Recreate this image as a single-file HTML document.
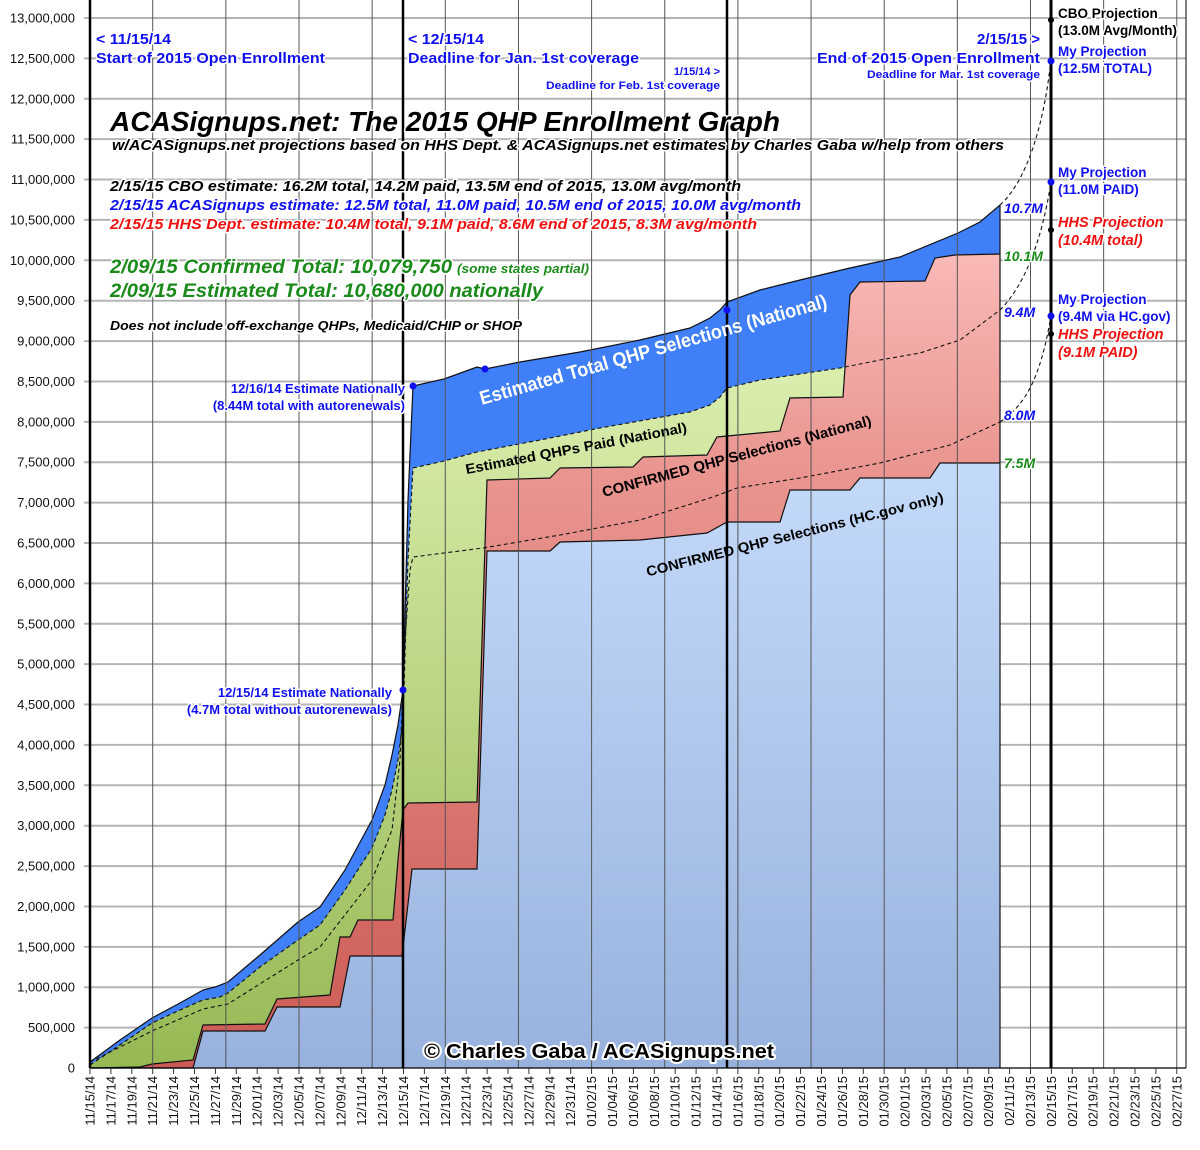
<!DOCTYPE html>
<html><head><meta charset="utf-8"><style>
html,body{margin:0;padding:0;background:#fff;}
svg{display:block;font-family:"Liberation Sans",sans-serif;}
.h{paint-order:stroke;stroke:#fff;stroke-width:3px;stroke-linejoin:round;}
.yl{font-size:13px;fill:#111;text-anchor:end;}
.xl{font-size:13px;fill:#111;text-anchor:end;}
</style></head><body>
<svg width="1200" height="1150" viewBox="0 0 1200 1150" xmlns="http://www.w3.org/2000/svg">
<defs>
<linearGradient id="gR" x1="0" y1="250" x2="0" y2="1068" gradientUnits="userSpaceOnUse">
<stop offset="0" stop-color="#f9bab8"/><stop offset="0.27" stop-color="#ea9590"/><stop offset="1" stop-color="#cc5a54"/></linearGradient>
<linearGradient id="gG" x1="0" y1="380" x2="0" y2="1068" gradientUnits="userSpaceOnUse">
<stop offset="0" stop-color="#d9edac"/><stop offset="1" stop-color="#96b954"/></linearGradient>
<linearGradient id="gB" x1="0" y1="460" x2="0" y2="1068" gradientUnits="userSpaceOnUse">
<stop offset="0" stop-color="#c4dafa"/><stop offset="1" stop-color="#98b2de"/></linearGradient>
</defs>
<rect width="1200" height="1150" fill="#fff"/>
<g stroke="#b4b4b4" stroke-width="2" id="hg"></g>
<g id="yl"></g>
<polygon fill="#3f7ff7" points="90,1062 120,1040 152,1018 180,1003 203,990 215,987 228,982 260,955 298,922 320,907 345,870 372,820 385,785 392,755 398,725 403,690 408,500 413,386 444,379 477,367 485,369 520,362 580,352 640,340 690,328 710,318 720,310 727,302 760,290 800,280 850,268 900,257 958,233 980,222 1000,205 1000,1068 90,1068"/>
<polygon fill="url(#gG)" points="90,1065 120,1045 152,1023 180,1010 203,1000 220,997 228,993 260,967 298,940 320,925 345,890 372,848 385,815 392,790 398,760 403,720 408,560 413,468 444,461 477,452 540,440 600,428 690,412 710,405 720,397 727,388 760,380 800,374 840,368 880,360 920,353 960,340 1000,310 1000,1068 90,1068"/>
<polygon fill="url(#gR)" points="90,1068 140,1067 152,1064 193,1060 203,1025 265,1024 277,999 330,995 340,937 350,937 358,920 393,920 398,860 403,810 408,803 477,802 487,480 550,478 560,468 633,467 643,457 707,455 717,437 780,431 790,398 843,397 850,295 860,282 925,281 935,258 955,255 1000,254 1000,1068"/>
<polygon fill="url(#gB)" points="90,1068 193,1068 203,1031 265,1031 277,1007 340,1007 350,956 402,956 412,869 477,869 487,551 550,551 560,542 640,540 707,533 727,522 780,522 790,490 850,490 860,478 930,478 940,463 1000,463 1000,1068"/>
<g fill="none" stroke="#111" stroke-width="1.2">
<polyline points="90,1062 120,1040 152,1018 180,1003 203,990 215,987 228,982 260,955 298,922 320,907 345,870 372,820 385,785 392,755 398,725 403,690 408,500 413,386 444,379 477,367 485,369 520,362 580,352 640,340 690,328 710,318 720,310 727,302 760,290 800,280 850,268 900,257 958,233 980,222 1000,205 1000,1068"/>
<polyline points="90,1068 140,1067 152,1064 193,1060 203,1025 265,1024 277,999 330,995 340,937 350,937 358,920 393,920 398,860 403,810 408,803 477,802 487,480 550,478 560,468 633,467 643,457 707,455 717,437 780,431 790,398 843,397 850,295 860,282 925,281 935,258 955,255 1000,254"/>
<polyline points="90,1068 193,1068 203,1031 265,1031 277,1007 340,1007 350,956 402,956 412,869 477,869 487,551 550,551 560,542 640,540 707,533 727,522 780,522 790,490 850,490 860,478 930,478 940,463 1000,463"/>
</g>
<g fill="none" stroke="#111" stroke-width="1.1" stroke-dasharray="4,3">
<polyline points="90,1065 120,1045 152,1023 180,1010 203,1000 220,997 228,993 260,967 298,940 320,925 345,890 372,848 385,815 392,790 398,760 403,720 408,560 413,468 444,461 477,452 540,440 600,428 690,412 710,405 720,397 727,388 760,380 800,374 840,368 880,360 920,353 960,340 1000,310"/>
<polyline points="90,1062 152,1031 203,1009 228,1004 298,960 320,947 372,880 392,830 400,760 405,640 410,570 413,557 483,548 560,535 640,520 713,497 737,488 800,478 880,463 950,445 1000,422"/>
<path d="M1000,422 C1025,405 1040,380 1051,316"/>
<path d="M1000,310 C1025,285 1042,240 1051,182"/>
<path d="M1000,205 C1028,180 1045,120 1051,58"/>
</g>
<g stroke="#555" stroke-width="1" id="vg"></g>
<g stroke="#000">
<line x1="90" y1="0" x2="90" y2="1068" stroke-width="2.5"/>
<line x1="403" y1="0" x2="403" y2="1068" stroke-width="2.5"/>
<line x1="727" y1="0" x2="727" y2="1068" stroke-width="2.5"/>
<line x1="1051" y1="0" x2="1051" y2="1068" stroke-width="3"/>
<line x1="1186" y1="0" x2="1186" y2="1068" stroke-width="1"/>
<line x1="90" y1="1068" x2="1186" y2="1068" stroke-width="1.2"/>
</g>
<g stroke="#333" id="xt"></g>
<g id="xl"></g>
<g font-weight="bold" fill="#1010ee">
<text x="96" y="44" font-size="15" class="h" textLength="75" lengthAdjust="spacingAndGlyphs">&lt; 11/15/14</text>
<text x="96" y="63" font-size="15" class="h" textLength="229" lengthAdjust="spacingAndGlyphs">Start of 2015 Open Enrollment</text>
<text x="408" y="44" font-size="15" class="h" textLength="76" lengthAdjust="spacingAndGlyphs">&lt; 12/15/14</text>
<text x="408" y="63" font-size="15" class="h" textLength="231" lengthAdjust="spacingAndGlyphs">Deadline for Jan. 1st coverage</text>
<text x="720" y="75" font-size="11" text-anchor="end" class="h">1/15/14 &gt;</text>
<text x="720" y="89" font-size="11" text-anchor="end" class="h" textLength="174" lengthAdjust="spacingAndGlyphs">Deadline for Feb. 1st coverage</text>
<text x="1040" y="44" font-size="15" text-anchor="end" class="h">2/15/15 &gt;</text>
<text x="817" y="63" font-size="15" class="h" textLength="223" lengthAdjust="spacingAndGlyphs">End of 2015 Open Enrollment</text>
<text x="867" y="78" font-size="11" class="h" textLength="173" lengthAdjust="spacingAndGlyphs">Deadline for Mar. 1st coverage</text>
</g>
<g font-weight="bold" font-style="italic">
<text x="110" y="131" font-size="28" fill="#000" class="h" textLength="670" lengthAdjust="spacingAndGlyphs">ACASignups.net: The 2015 QHP Enrollment Graph</text>
<text x="112" y="150" font-size="15" fill="#000" class="h" textLength="892" lengthAdjust="spacingAndGlyphs">w/ACASignups.net projections based on HHS Dept. &amp; ACASignups.net estimates by Charles Gaba w/help from others</text>
<text x="110" y="191" font-size="15" fill="#000" class="h" textLength="631" lengthAdjust="spacingAndGlyphs">2/15/15 CBO estimate: 16.2M total, 14.2M paid, 13.5M end of 2015, 13.0M avg/month</text>
<text x="110" y="210" font-size="15" fill="#1010ee" class="h" textLength="691" lengthAdjust="spacingAndGlyphs">2/15/15 ACASignups estimate: 12.5M total, 11.0M paid, 10.5M end of 2015, 10.0M avg/month</text>
<text x="110" y="229" font-size="15" fill="#ee1010" class="h" textLength="647" lengthAdjust="spacingAndGlyphs">2/15/15 HHS Dept. estimate: 10.4M total, 9.1M paid, 8.6M end of 2015, 8.3M avg/month</text>
<text x="110" y="273" font-size="19.5" fill="#1a8a1a" class="h" textLength="342" lengthAdjust="spacingAndGlyphs">2/09/15 Confirmed Total: 10,079,750</text>
<text x="457" y="273" font-size="12.5" fill="#1a8a1a" class="h" textLength="132" lengthAdjust="spacingAndGlyphs">(some states partial)</text>
<text x="110" y="297" font-size="19.5" fill="#1a8a1a" class="h" textLength="433" lengthAdjust="spacingAndGlyphs">2/09/15 Estimated Total: 10,680,000 nationally</text>
<text x="110" y="330" font-size="12.5" fill="#000" class="h" textLength="412" lengthAdjust="spacingAndGlyphs">Does not include off-exchange QHPs, Medicaid/CHIP or SHOP</text>
</g>
<g font-weight="bold" text-anchor="middle">
<text transform="translate(655,356) rotate(-15.8)" font-size="19.5" fill="#fff" textLength="360" lengthAdjust="spacingAndGlyphs">Estimated Total QHP Selections (National)</text>
<text transform="translate(577,453) rotate(-10.8)" font-size="14" fill="#000" textLength="225" lengthAdjust="spacingAndGlyphs">Estimated QHPs Paid (National)</text>
<text transform="translate(738,461) rotate(-15)" font-size="14.5" fill="#000" textLength="278" lengthAdjust="spacingAndGlyphs">CONFIRMED QHP Selections (National)</text>
<text transform="translate(796,539) rotate(-14.2)" font-size="14" fill="#000" textLength="306" lengthAdjust="spacingAndGlyphs">CONFIRMED QHP Selections (HC.gov only)</text>
<text x="599" y="1058" font-size="20" fill="#000" class="h" style="stroke-width:4px" textLength="350" lengthAdjust="spacingAndGlyphs">© Charles Gaba / ACASignups.net</text>
</g>
<g font-weight="bold" fill="#1010ee" font-size="13" text-anchor="end">
<text x="405" y="393" class="h">12/16/14 Estimate Nationally</text>
<text x="405" y="410" class="h">(8.44M total with autorenewals)</text>
<text x="392" y="697" class="h">12/15/14 Estimate Nationally</text>
<text x="392" y="714" class="h">(4.7M total without autorenewals)</text>
</g>
<g font-weight="bold" font-style="italic" font-size="14">
<text x="1004" y="213" fill="#1010ee" class="h">10.7M</text>
<text x="1004" y="261" fill="#1a8a1a" class="h">10.1M</text>
<text x="1004" y="317" fill="#1010ee" class="h">9.4M</text>
<text x="1004" y="420" fill="#1010ee" class="h">8.0M</text>
<text x="1004" y="468" fill="#1a8a1a" class="h">7.5M</text>
</g>
<g font-weight="bold" font-size="13.5">
<text x="1058" y="18" fill="#000" class="h">CBO Projection</text>
<text x="1058" y="35" fill="#000" class="h">(13.0M Avg/Month)</text>
<text x="1058" y="56" fill="#1010ee" class="h">My Projection</text>
<text x="1058" y="73" fill="#1010ee" class="h">(12.5M TOTAL)</text>
<text x="1058" y="177" fill="#1010ee" class="h">My Projection</text>
<text x="1058" y="194" fill="#1010ee" class="h">(11.0M PAID)</text>
<text x="1058" y="227" fill="#ee1010" font-style="italic" font-size="14.5" class="h">HHS Projection</text>
<text x="1058" y="245" fill="#ee1010" font-style="italic" font-size="14.5" class="h">(10.4M total)</text>
<text x="1058" y="304" fill="#1010ee" class="h">My Projection</text>
<text x="1058" y="321" fill="#1010ee" class="h">(9.4M via HC.gov)</text>
<text x="1058" y="339" fill="#ee1010" font-style="italic" font-size="14.5" class="h">HHS Projection</text>
<text x="1058" y="357" fill="#ee1010" font-style="italic" font-size="14.5" class="h">(9.1M PAID)</text>
</g>
<g fill="#1010ee">
<circle cx="403" cy="690" r="3.5"/><circle cx="413" cy="386" r="3.5"/><circle cx="485" cy="369" r="3.5"/>
<circle cx="727" cy="310" r="3.5"/><circle cx="1051" cy="61" r="3.5"/><circle cx="1051" cy="182" r="3.5"/><circle cx="1051" cy="316" r="3.5"/>
</g>
<g fill="#000">
<circle cx="1051" cy="20" r="3"/><circle cx="1051" cy="230" r="3"/><circle cx="1051" cy="334" r="3"/>
</g>
<script>
(function(){
var NS="http://www.w3.org/2000/svg";
function el(t,a,p){var e=document.createElementNS(NS,t);for(var k in a)e.setAttribute(k,a[k]);p.appendChild(e);return e;}
var hg=document.getElementById("hg"),yl=document.getElementById("yl");
for(var i=0;i<=26;i++){
 var y=1068-i*1050/26;
 if(i>0) el("line",{x1:84,y1:y,x2:1186,y2:y},hg);
 var v=i*500000, s=v.toLocaleString("en-US");
 var t=el("text",{x:75,y:y+4.5,"class":"yl"},yl);t.textContent=s;
}
var vg=document.getElementById("vg");
for(var d=6;d<=104;d+=7){var x=90+d*10.45;el("line",{x1:x,y1:0,x2:x,y2:1068},vg);}
var xt=document.getElementById("xt"),xl=document.getElementById("xl");
var start=new Date(2014,10,15);
for(var d=0;d<=104;d+=2){
 var x=90+d*10.45;
 el("line",{x1:x,y1:1068,x2:x,y2:1074},xt);
 var dt=new Date(start.getTime()+d*86400000+3600000*3);
 var m=("0"+(dt.getMonth()+1)).slice(-2),dd=("0"+dt.getDate()).slice(-2),yy=(""+dt.getFullYear()).slice(-2);
 var t=el("text",{"class":"xl",transform:"translate("+(x+4.5)+",1076) rotate(-90)"},xl);
 t.textContent=m+"/"+dd+"/"+yy;
}
})();
</script>
</svg>
</body></html>
